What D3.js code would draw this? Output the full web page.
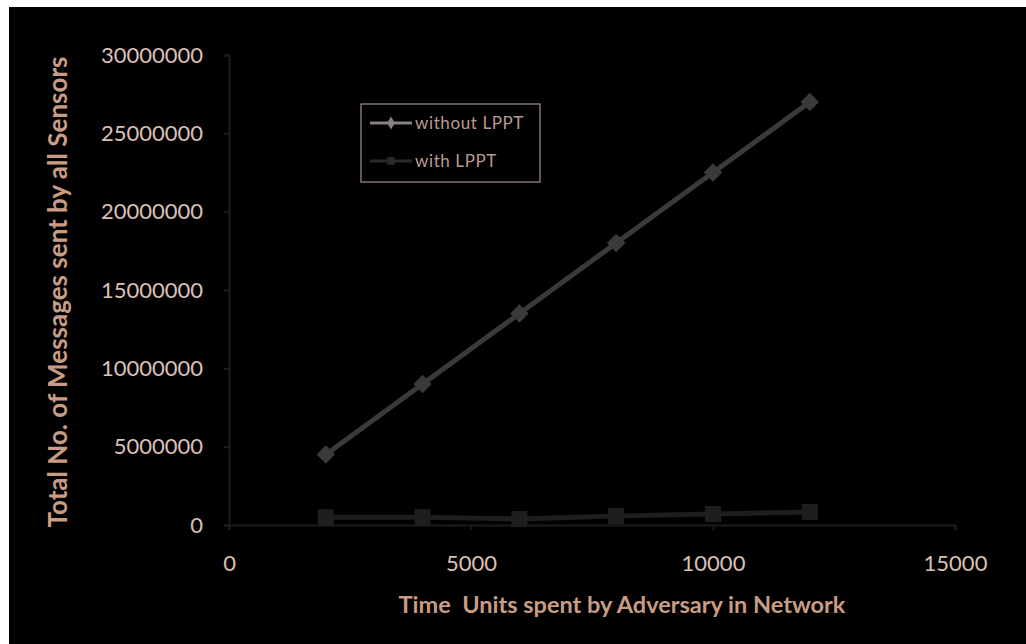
<!DOCTYPE html>
<html><head><meta charset="utf-8">
<script src="https://cdn.jsdelivr.net/npm/d3@7"></script>
<style>html,body{margin:0;padding:0;background:#fff;}svg{display:block;}</style>
</head><body>
<script>
const xValues = [2000, 4000, 6000, 8000, 10000, 12000];
const withoutLPPT = [4500000, 9000000, 13500000, 18000000, 22500000, 27000000];
const withLPPT = [500000, 500000, 380000, 570000, 700000, 830000];
const xTicks = [0, 5000, 10000, 15000];
const yTicks = [0, 5000000, 10000000, 15000000, 20000000, 25000000, 30000000];
const seriesNames = ["without LPPT", "with LPPT"];

const W = 1026, H = 644;
const svg = d3.select("body").append("svg").attr("width", W).attr("height", H);
svg.append("rect").attr("x", 9).attr("y", 7).attr("width", W - 9).attr("height", H - 7).attr("fill", "#000");

const x = d3.scaleLinear().domain([0, 15000]).range([229, 955]);
const y = d3.scaleLinear().domain([0, 30000000]).range([525, 55]);
const font = "Lato, 'Open Sans', sans-serif";
const tickColor = "#dcc0b8";
const titleColor = "#c99c84";

// Y axis
const yAxis = svg.append("g").attr("transform", `translate(${x(0)},0)`)
  .call(d3.axisLeft(y).tickValues(yTicks).tickFormat(d3.format("d")).tickSize(5).tickPadding(21));
yAxis.select(".domain").attr("stroke", "#1c1c1c").attr("stroke-width", 2);
yAxis.selectAll(".tick line").attr("stroke", "#1c1c1c").attr("stroke-width", 2);
yAxis.selectAll("text").attr("fill", tickColor).attr("font-size", 22).attr("font-family", font);

// X axis
const xAxis = svg.append("g").attr("transform", `translate(0,${y(0)})`)
  .call(d3.axisBottom(x).tickValues(xTicks).tickFormat(d3.format("d")).tickSize(5).tickPadding(25));
xAxis.select(".domain").attr("stroke", "#1c1c1c").attr("stroke-width", 2);
xAxis.selectAll(".tick line").attr("stroke", "#1c1c1c").attr("stroke-width", 2);
xAxis.selectAll("text").attr("fill", tickColor).attr("font-size", 22).attr("font-family", font);

// Titles
svg.append("text").attr("transform", `translate(67,292) rotate(-90)`)
  .attr("text-anchor", "middle").attr("fill", titleColor).attr("font-weight", "bold")
  .attr("font-size", 26).attr("font-family", font).text("Total No. of Messages sent by all Sensors");
svg.append("text").attr("x", 622).attr("y", 613).attr("text-anchor", "middle")
  .attr("fill", titleColor).attr("font-weight", "bold").attr("font-size", 23.5)
  .attr("font-family", font).style("white-space", "pre")
  .text("Time  Units spent by Adversary in Network");

const line = d3.line().x(d => x(d[0])).y(d => y(d[1]));
const d1 = xValues.map((v, i) => [v, withoutLPPT[i]]);
const d2 = xValues.map((v, i) => [v, withLPPT[i]]);

// with LPPT
svg.append("path").datum(d2).attr("d", line).attr("fill", "none").attr("stroke", "#1e1e1e").attr("stroke-width", 5);
svg.selectAll(".sq").data(d2).enter().append("path")
  .attr("transform", d => `translate(${x(d[0])},${y(d[1])})`)
  .attr("d", d3.symbol(d3.symbolSquare, 260)).attr("fill", "#1e1e1e");

// without LPPT
svg.append("path").datum(d1).attr("d", line).attr("fill", "none").attr("stroke", "#3a3a3a").attr("stroke-width", 5);
svg.selectAll(".dm").data(d1).enter().append("path")
  .attr("transform", d => `translate(${x(d[0])},${y(d[1])}) rotate(45)`)
  .attr("d", d3.symbol(d3.symbolSquare, 170)).attr("fill", "#3a3a3a");

// Legend
const lg = svg.append("g");
lg.append("rect").attr("x", 361).attr("y", 104).attr("width", 179).attr("height", 78)
  .attr("fill", "#000").attr("stroke", "#a89090").attr("stroke-width", 1.2);
const legItems = [
  {name: seriesNames[0], color: "#8a8080", sym: d3.symbolDiamond, size: 50, yy: 123},
  {name: seriesNames[1], color: "#2a2a2a", sym: d3.symbolSquare, size: 60, yy: 161}
];
legItems.forEach(it => {
  lg.append("line").attr("x1", 370).attr("x2", 412).attr("y1", it.yy).attr("y2", it.yy)
    .attr("stroke", it.color).attr("stroke-width", 3);
  lg.append("path").attr("transform", `translate(391,${it.yy})`).attr("d", d3.symbol(it.sym, it.size)).attr("fill", it.color);
  lg.append("text").attr("x", 415).attr("y", it.yy + 6).attr("fill", "#b89a94")
    .attr("font-size", 17).attr("letter-spacing", 0.6).attr("font-family", font).text(it.name);
});
</script>
</body></html>
